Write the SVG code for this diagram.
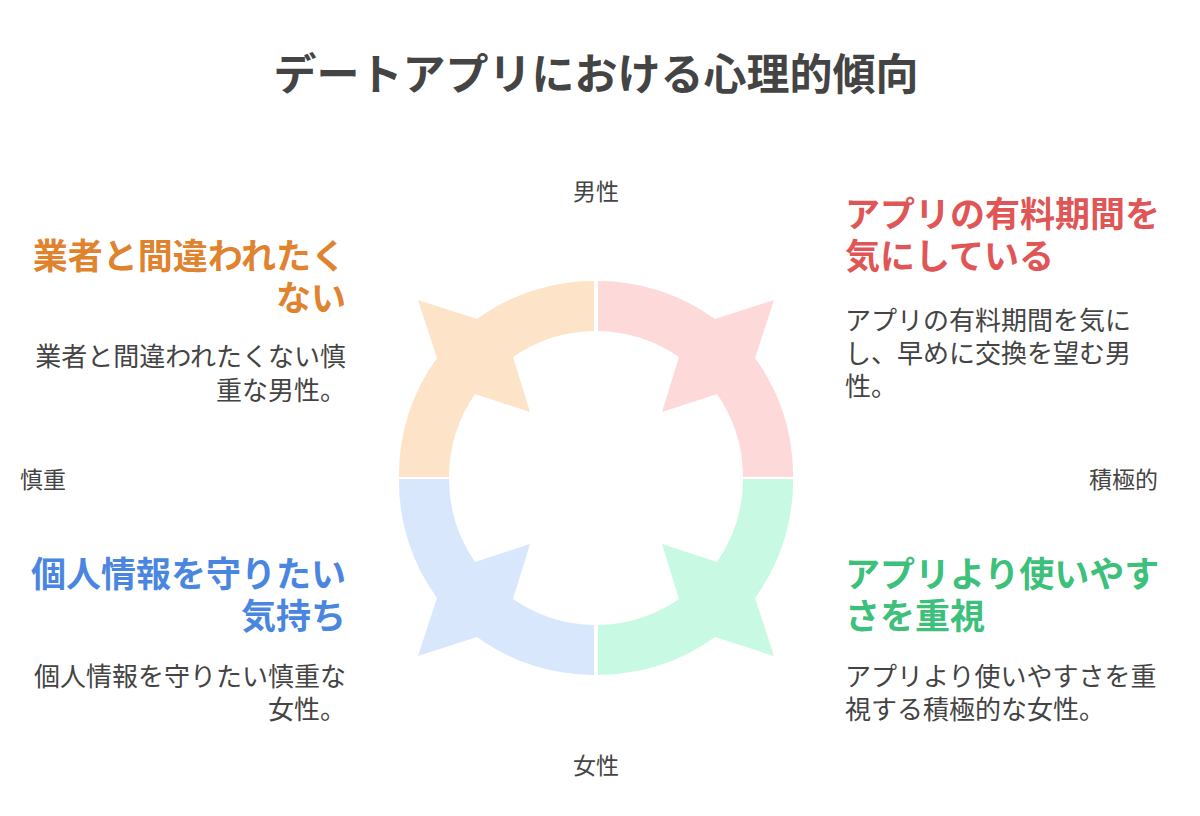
<svg xmlns="http://www.w3.org/2000/svg" width="1200" height="816" viewBox="0 0 1200 816">
<style>
text{font-family:"Noto Sans CJK JP","Noto Sans",sans-serif}
.t{font-size:43px;font-weight:bold;fill:#444}
.ax{font-size:23px;fill:#444}
.h{font-size:35px;font-weight:bold}
.b{font-size:26px;fill:#444}
.r{text-anchor:end}
</style>
<defs>
<path id="q" d="M-2,-197 A197,197 0 0 0 -119,-159 L-178,-178 L-159,-120 A197,197 0 0 0 -197,-1 L-147,-1 A147,147 0 0 1 -121,-84 L-66,-66 L-83,-121 A147,147 0 0 1 -2,-147 Z"/>
</defs>
<rect width="1200" height="816" fill="#fff"/>
<text class="t" x="596" y="90" text-anchor="middle">デートアプリにおける心理的傾向</text>
<g id="ring" transform="translate(596,478)">
<use href="#q" fill="#fde3c8"/>
<use href="#q" fill="#fdd9d9" transform="scale(-1,1)"/>
<use href="#q" fill="#d9e7fd" transform="scale(1,-1)"/>
<use href="#q" fill="#c8fae3" transform="scale(-1,-1)"/>
</g>
<g id="axes">
<text class="ax" x="596" y="200" text-anchor="middle">男性</text>
<text class="ax" x="596" y="774" text-anchor="middle">女性</text>
<text class="ax" x="20" y="488">慎重</text>
<text class="ax r" x="1158" y="488">積極的</text>
</g>
<g id="tl">
<text class="h r" x="346" y="269" fill="#e0832f">業者と間違われたく</text>
<text class="h r" x="346" y="311" fill="#e0832f">ない</text>
<text class="b r" x="346" y="366">業者と間違われたくない慎</text>
<text class="b r" x="346" y="400">重な男性。</text>
</g>
<g id="tr">
<text class="h" x="845" y="227" fill="#e05555">アプリの有料期間を</text>
<text class="h" x="845" y="269" fill="#e05555">気にしている</text>
<text class="b" x="845" y="330">アプリの有料期間を気に</text>
<text class="b" x="845" y="363">し、早めに交換を望む男</text>
<text class="b" x="845" y="396">性。</text>
</g>
<g id="bl">
<text class="h r" x="346" y="587" fill="#4a86e0">個人情報を守りたい</text>
<text class="h r" x="346" y="629" fill="#4a86e0">気持ち</text>
<text class="b r" x="346" y="686">個人情報を守りたい慎重な</text>
<text class="b r" x="346" y="719">女性。</text>
</g>
<g id="br">
<text class="h" x="845" y="587" fill="#3cc07a">アプリより使いやす</text>
<text class="h" x="845" y="629" fill="#3cc07a">さを重視</text>
<text class="b" x="845" y="686">アプリより使いやすさを重</text>
<text class="b" x="845" y="719">視する積極的な女性。</text>
</g>
</svg>
